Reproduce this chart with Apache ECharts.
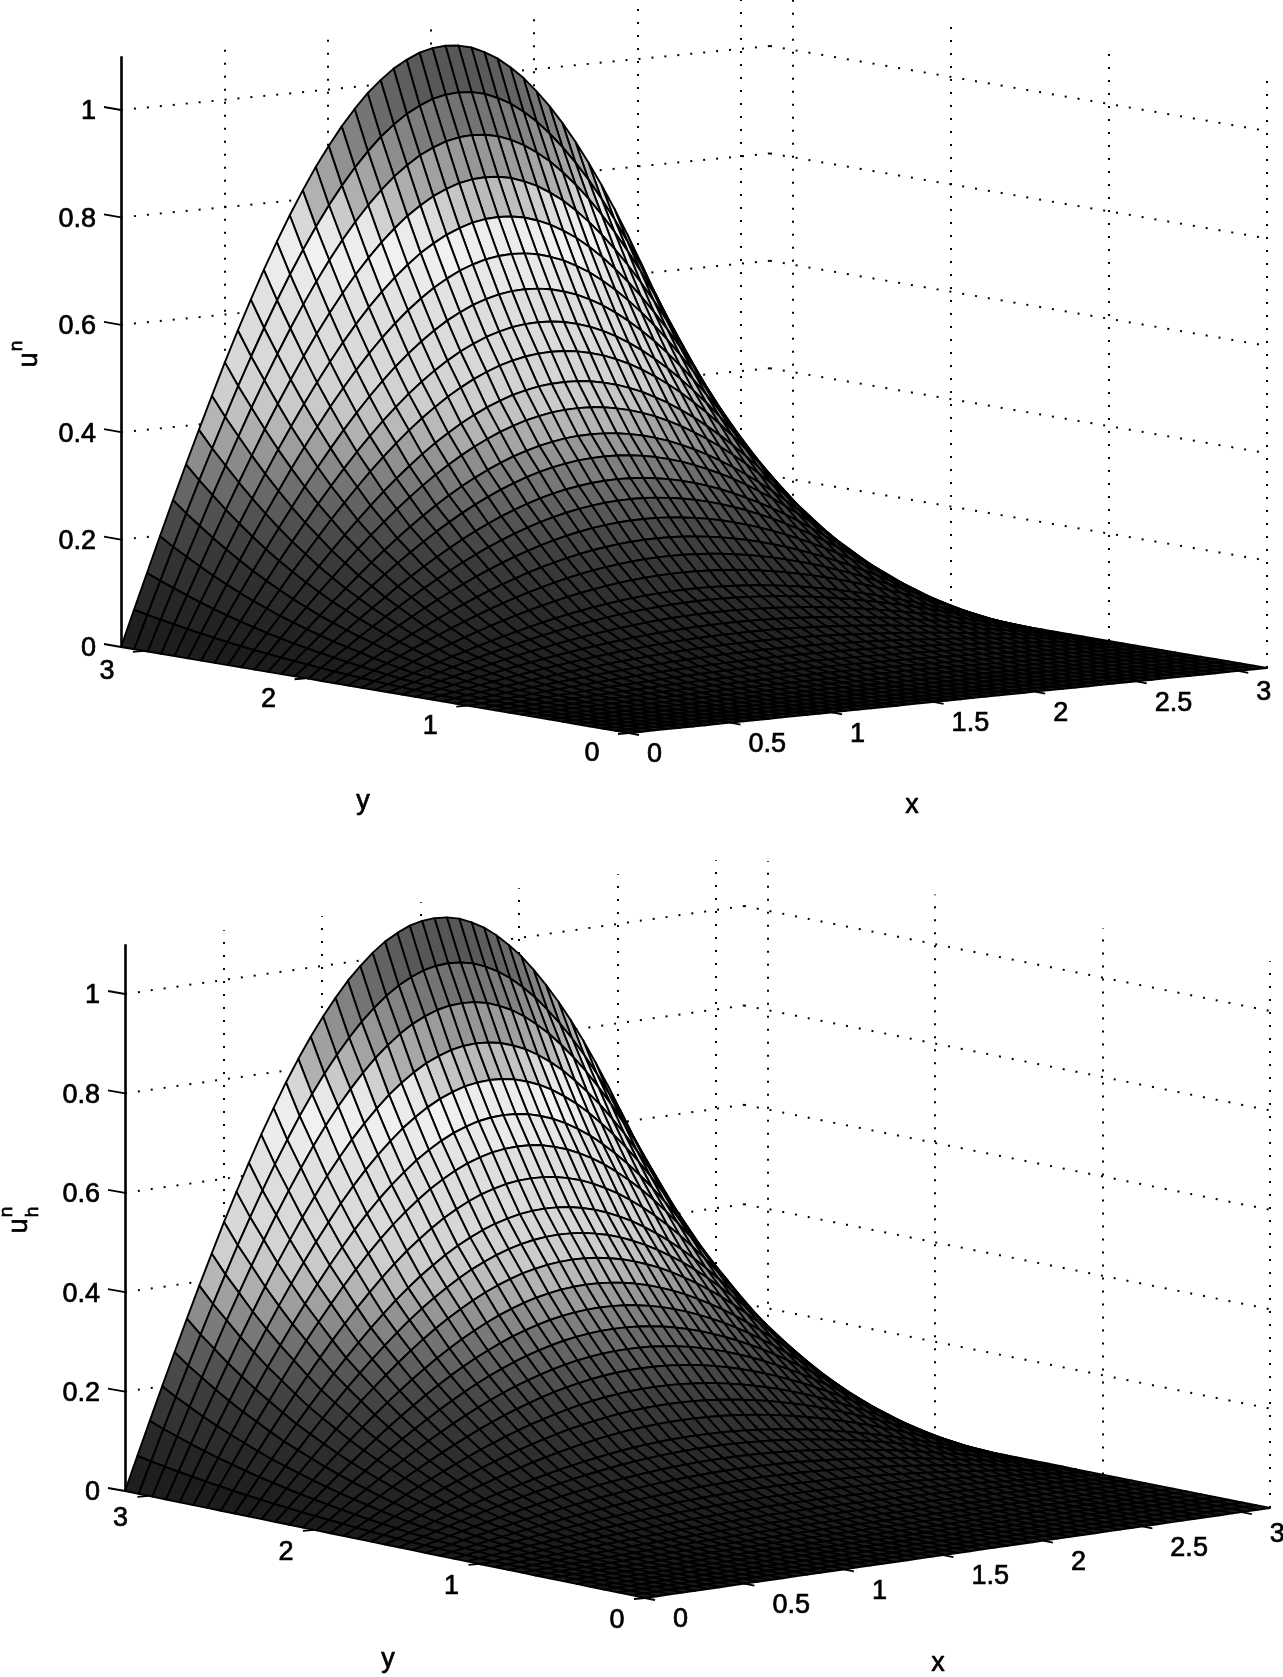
<!DOCTYPE html>
<html>
<head>
<meta charset="utf-8">
<title>u and u_h surfaces</title>
<script src="https://cdn.jsdelivr.net/npm/echarts@6/dist/echarts.min.js"></script>
<style>
    html, body { margin: 0; padding: 0; background: #fff; }
    #chart { width: 1283px; height: 1677px; }
</style>
</head>
<body>
<div id="chart"></div>
<script>
    // ticks
    var zTicks = [0, 0.2, 0.4, 0.6, 0.8, 1];
    var zTickLabels = ['0', '0.2', '0.4', '0.6', '0.8', '1'];
    var xTicks = [0, 0.5, 1, 1.5, 2, 2.5, 3];
    var xTickLabels = ['0', '0.5', '1', '1.5', '2', '2.5', '3'];
    var yTicks = [0, 1, 2, 3];
    var yTickLabels = ['0', '1', '2', '3'];
    var axisEnd = 3.1416;
    var zTop = 1.1;

    var xProfileTop = [0, .067, .133, .199, .264, .328, .390, .451, .511, .568, .623, .676, .726, .773, .817, .858, .895, .929, .959, .986, 1.008, 1.027, 1.041, 1.052, 1.058, 1.06,
        1.058, 1.052, 1.041, 1.027, 1.008, .986, .959, .929, .895, .858, .817, .773, .726, .676, .623, .568, .511, .451, .390, .328, .264, .199, .133, .067, 0];
    var xProfileBottom = [0, .067, .134, .200, .265, .329, .392, .453, .513, .570, .625, .678, .728, .776, .820, .861, .898, .932, .963, .989, 1.012, 1.031, 1.045, 1.056, 1.062, 1.064,
        1.062, 1.056, 1.045, 1.031, 1.012, .989, .963, .932, .898, .861, .820, .776, .728, .678, .625, .570, .513, .453, .392, .329, .265, .200, .134, .067, 0];
    // relative height along y = 0 .. end
    var yProfileTop = [0, 0, .0001, .0005, .0012, .0023, .0039, .0063, .0093, .0133, .0182, .0243, .0315, .040, .050, .0615, .0746, .0895, .106, .122, .146, .171, .198, .228, .259, .290, .326, .361, .403, .445, .494, .542, .596, .654, .715, .781, .851, .922, 1];
    var yProfileBottom = [0, 0, .0001, .0005, .0012, .0023, .0039, .0063, .0093, .0133, .0182, .0243, .0315, .040, .050, .0615, .0746, .0895, .106, .122, .146, .171, .198, .228, .259, .292, .327, .365, .407, .449, .493, .545, .600, .654, .715, .779, .850, .920, 1];

    // gray used per 0.05 of height
    var heightGrays = ['#1a1a1a', '#212121', '#292929', '#333333', '#404040', '#545454', '#6e6e6e', '#8f8f8f', '#b3b3b3', '#cccccc', '#d6d6d6', '#dbdbdb',
        '#dedede', '#e6e6e6', '#f2f2f2', '#e6e6e6', '#b3b3b3', '#9e9e9e', '#858585', '#6e6e6e', '#5c5c5c', '#4d4d4d', '#474747'];

    var panels = [
        {
            front: [629, 733], right: [1267, 668], left: [121, 647], back: [770, 583], zScale: 537,
            xProfile: xProfileTop, yProfile: yProfileTop,
            xLabelShift: [18, 22], yLabelShift: [-37, 21], zLabelShift: -25,
            titles: [
                { text: 'y', x: 363, y: 802, size: 27 },
                { text: 'x', x: 912, y: 806, size: 27 },
                { text: 'u', x: 30, y: 360, size: 27, rotate: true },
                { text: 'n', x: 17, y: 346, size: 19, rotate: true }
            ]
        },
        {
            front: [645, 1598], right: [1270, 1508], left: [125, 1491], back: [744, 1403], zScale: 497,
            xProfile: xProfileBottom, yProfile: yProfileBottom,
            xLabelShift: [28, 22], yLabelShift: [-28, 23], zLabelShift: -25,
            titles: [
                { text: 'y', x: 388, y: 1660, size: 27 },
                { text: 'x', x: 938, y: 1664, size: 27 },
                { text: 'u', x: 20, y: 1226, size: 27, rotate: true },
                { text: 'h', x: 33, y: 1212, size: 19, rotate: true },
                { text: 'n', x: 7, y: 1212, size: 19, rotate: true }
            ]
        }
    ];

    // axis units to page position, ground corners are blended so the slight perspective stays
    function project(p, x, y, z) {
        var u = x / axisEnd, v = y / axisEnd;
        var out = [0, 1].map(function (k) {
            return (1 - u) * (1 - v) * p.front[k] + u * (1 - v) * p.right[k] + (1 - u) * v * p.left[k] + u * v * p.back[k];
        });
        out[1] -= p.zScale * z;
        return out;
    }

    function lineSeries(segments, width, dash) {
        return {
            type: 'lines',
            coordinateSystem: 'cartesian2d',
            silent: true,
            animation: false,
            lineStyle: { color: '#000', width: width, type: dash || 'solid', opacity: 1, curveness: 0 },
            data: segments.map(function (s) { return { coords: s }; })
        };
    }

    function surfaceSeries(p) {
        var nx = p.xProfile.length - 1;
        var ny = p.yProfile.length - 1;
        var height = function (i, j) { return p.xProfile[i] * p.yProfile[j]; };
        var cells = [];
        // far corner first so nearer cells paint over
        for (var i = nx - 1; i >= 0; i--) {
            for (var j = ny - 1; j >= 0; j--) {
                cells.push([i, j, (height(i, j) + height(i + 1, j) + height(i, j + 1) + height(i + 1, j + 1)) / 4]);
            }
        }
        return {
            type: 'custom',
            coordinateSystem: 'cartesian2d',
            silent: true,
            animation: false,
            progressive: 0,
            clip: false,
            data: cells,
            renderItem: function (params, api) {
                var i = api.value(0), j = api.value(1);
                var corner = function (a, b) {
                    return api.coord(project(p, a * axisEnd / nx, b * axisEnd / ny, height(a, b)));
                };
                return {
                    type: 'polygon',
                    shape: { points: [corner(i, j), corner(i + 1, j), corner(i + 1, j + 1), corner(i, j + 1)] },
                    style: { fill: api.visual('color'), stroke: '#000', lineWidth: 1.9, lineJoin: 'round' }
                };
            }
        };
    }

    function textSeries(items) {
        return {
            type: 'custom',
            coordinateSystem: 'cartesian2d',
            silent: true,
            animation: false,
            clip: false,
            data: items.map(function (t) { return [t.x, t.y]; }),
            renderItem: function (params, api) {
                var t = items[params.dataIndex];
                var at = api.coord([api.value(0), api.value(1)]);
                return {
                    type: 'text',
                    x: at[0],
                    y: at[1],
                    rotation: t.rotate ? Math.PI / 2 : 0,
                    style: {
                        text: t.text,
                        fill: '#000',
                        // the original glyphs are heavier than the regular face
                        stroke: '#000',
                        lineWidth: 0.7,
                        fontFamily: '"Liberation Sans", Arial, sans-serif',
                        fontSize: t.size,
                        align: t.align || 'center',
                        verticalAlign: 'middle'
                    }
                };
            }
        };
    }

    var series = [];
    var surfaceIndexes = [];

    panels.forEach(function (p) {
        var dotted = [], ticks = [], axis = [], texts = [];

        // dotted grid on the two back walls
        zTicks.slice(1).forEach(function (z) {
            dotted.push([project(p, 0, axisEnd, z), project(p, axisEnd, axisEnd, z)]);
            dotted.push([project(p, axisEnd, axisEnd, z), project(p, axisEnd, 0, z)]);
        });
        xTicks.slice(1).forEach(function (x) {
            dotted.push([project(p, x, axisEnd, 0), project(p, x, axisEnd, zTop)]);
        });
        yTicks.forEach(function (y) {
            dotted.push([project(p, axisEnd, y, 0), project(p, axisEnd, y, zTop)]);
        });

        // ticks and tick labels
        xTicks.forEach(function (x, n) {
            var at = project(p, x, 0, 0);
            ticks.push([at, [at[0] + 10, at[1] + 2]]);
            texts.push({ text: xTickLabels[n], x: at[0] + p.xLabelShift[0], y: at[1] + p.xLabelShift[1], size: 27, align: 'left' });
        });
        yTicks.forEach(function (y, n) {
            var at = project(p, 0, y, 0);
            ticks.push([at, [at[0] - 11, at[1] + 1]]);
            texts.push({ text: yTickLabels[n], x: at[0] + p.yLabelShift[0], y: at[1] + p.yLabelShift[1], size: 27 });
        });
        zTicks.forEach(function (z, n) {
            var at = project(p, 0, axisEnd, z);
            ticks.push([at, [at[0] - 17, at[1] - 3]]);
            texts.push({ text: zTickLabels[n], x: at[0] + p.zLabelShift, y: at[1] + 2, size: 27, align: 'right' });
        });
        axis.push([project(p, 0, axisEnd, 0), project(p, 0, axisEnd, zTop)]);

        series.push(lineSeries(dotted, 2, [2, 11]));
        series.push(lineSeries(ticks, 1.8));
        surfaceIndexes.push(series.length);
        series.push(surfaceSeries(p));
        series.push(lineSeries(axis, 2.6));
        series.push(textSeries(texts.concat(p.titles)));
    });

    var chart = echarts.init(document.getElementById('chart'), null, { renderer: 'canvas' });
    chart.setOption({
        animation: false,
        backgroundColor: '#fff',
        grid: { left: 0, right: 0, top: 0, bottom: 0 },
        xAxis: { type: 'value', min: 0, max: 1283, show: false },
        yAxis: { type: 'value', min: 0, max: 1677, inverse: true, show: false },
        visualMap: {
            show: false,
            type: 'continuous',
            dimension: 2,
            seriesIndex: surfaceIndexes,
            min: 0,
            max: zTop,
            inRange: { color: heightGrays }
        },
        series: series
    });
    window.addEventListener('resize', chart.resize);
</script>
</body>
</html>
